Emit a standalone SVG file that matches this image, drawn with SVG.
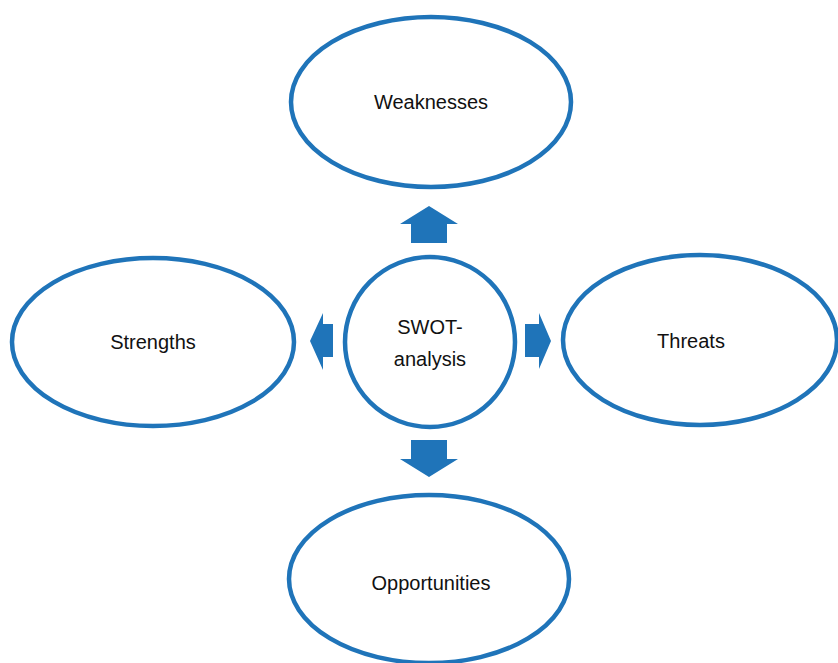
<svg xmlns="http://www.w3.org/2000/svg" width="838" height="663" viewBox="0 0 838 663">
<style>
.node{fill:#ffffff;stroke:#1f74b9;stroke-width:4.5}
.lbl{font-family:"Liberation Sans",Arial,sans-serif;font-size:20px;fill:#111111;text-anchor:middle}
.arr{fill:#1f74b9;stroke:none}
</style>
<rect width="838" height="663" fill="#ffffff"/>
<g id="weaknesses">
<ellipse class="node" cx="431" cy="102" rx="140" ry="85"/>
<text class="lbl" x="431" y="109">Weaknesses</text>
</g>
<g id="strengths">
<ellipse class="node" cx="153" cy="342" rx="141" ry="84"/>
<text class="lbl" x="153" y="349">Strengths</text>
</g>
<g id="threats">
<ellipse class="node" cx="700" cy="340" rx="137" ry="85"/>
<text class="lbl" x="691" y="348">Threats</text>
</g>
<g id="opportunities">
<ellipse class="node" cx="429" cy="579" rx="140" ry="84"/>
<text class="lbl" x="431" y="590">Opportunities</text>
</g>
<g id="swot">
<circle class="node" cx="430" cy="342" r="85"/>
<text class="lbl" x="430" y="334">SWOT-</text>
<text class="lbl" x="430" y="366">analysis</text>
</g>
<g id="connectors">
<polygon class="arr" points="429,206 458,224 447,224 447,243 411,243 411,224 400,224"/>
<polygon class="arr" points="429,477 458,459 447,459 447,440 411,440 411,459 400,459"/>
<polygon class="arr" points="310,341 323,313 323,324 333,324 333,357 323,357 323,370"/>
<polygon class="arr" points="551,341 539,313 539,324 525,324 525,357 539,357 539,369"/>
</g>
</svg>
